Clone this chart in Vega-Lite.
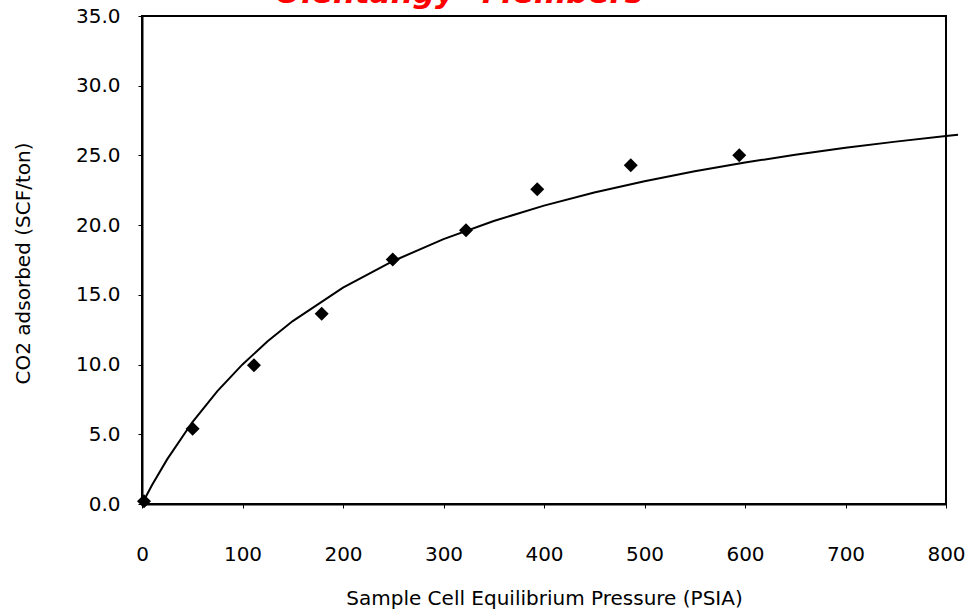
{
  "$schema": "https://vega.github.io/schema/vega-lite/v6.json",
  "autosize": {"type": "none"},
  "width": 804,
  "height": 488,
  "padding": {"left": 142, "top": 16, "right": 24, "bottom": 109},
  "background": "white",
  "title": {
    "text": "\"Olentangy\" Members",
    "color": "#FF0000",
    "font": "DejaVu Sans",
    "fontSize": 31,
    "fontWeight": "bold",
    "fontStyle": "italic",
    "anchor": "middle",
    "dx": -93,
    "dy": 28,
    "offset": 0,
    "baseline": "alphabetic"
  },
  "config": {
    "view": {"stroke": "#000000", "strokeWidth": 2},
    "axis": {
      "labelFont": "DejaVu Sans",
      "labelFontSize": 20,
      "labelColor": "#000000",
      "titleFont": "DejaVu Sans",
      "titleFontSize": 20,
      "titleFontWeight": "normal",
      "titleColor": "#000000",
      "grid": false,
      "domainColor": "#000000",
      "domainWidth": 2,
      "tickColor": "#000000",
      "tickSize": 4,
      "tickWidth": 1,
      "labelFlush": false
    }
  },
  "datasets": {
    "curve": [
      {"p": 0, "v": 0},
      {"p": 10, "v": 1.36},
      {"p": 25, "v": 3.2},
      {"p": 50, "v": 5.86},
      {"p": 75, "v": 8.1},
      {"p": 100, "v": 10.01},
      {"p": 125, "v": 11.67},
      {"p": 150, "v": 13.12},
      {"p": 200, "v": 15.52},
      {"p": 250, "v": 17.43},
      {"p": 300, "v": 19.0},
      {"p": 350, "v": 20.3},
      {"p": 400, "v": 21.4},
      {"p": 450, "v": 22.34},
      {"p": 500, "v": 23.15},
      {"p": 550, "v": 23.86},
      {"p": 600, "v": 24.49},
      {"p": 650, "v": 25.05},
      {"p": 700, "v": 25.55},
      {"p": 750, "v": 25.99},
      {"p": 800, "v": 26.4},
      {"p": 812, "v": 26.49}
    ],
    "measured": [
      {"p": 2, "v": 0.2},
      {"p": 50.4, "v": 5.4},
      {"p": 111.4, "v": 9.95},
      {"p": 178.8, "v": 13.64},
      {"p": 249.5, "v": 17.54},
      {"p": 322.4, "v": 19.63},
      {"p": 393.3, "v": 22.57},
      {"p": 486.3, "v": 24.3},
      {"p": 594.3, "v": 25.02}
    ]
  },
  "layer": [
    {
      "data": {"name": "curve"},
      "mark": {"type": "line", "color": "#000000", "strokeWidth": 2, "clip": false},
      "encoding": {
        "x": {
          "field": "p", "type": "quantitative",
          "scale": {"domain": [0, 800], "nice": false},
          "axis": {
            "values": [0, 100, 200, 300, 400, 500, 600, 700, 800],
            "format": "d",
            "labelPadding": 36,
            "labelFlush": false,
            "title": "Sample Cell Equilibrium Pressure (PSIA)",
            "titleX": 402,
            "titleY": 94,
            "titleBaseline": "middle"
          }
        },
        "y": {
          "field": "v", "type": "quantitative",
          "scale": {"domain": [0, 35], "nice": false},
          "axis": {
            "values": [0, 5, 10, 15, 20, 25, 30, 35],
            "format": ".1f",
            "labelPadding": 18,
            "labelFlush": false,
            "title": "CO2 adsorbed (SCF/ton)",
            "titleX": -119,
            "titleY": 247,
            "titleAngle": -90,
            "titleAlign": "center",
            "titleBaseline": "middle"
          }
        }
      }
    },
    {
      "data": {"name": "measured"},
      "mark": {"type": "point", "shape": "diamond", "filled": true, "color": "#000000", "opacity": 1, "size": 196},
      "encoding": {
        "x": {"field": "p", "type": "quantitative"},
        "y": {"field": "v", "type": "quantitative"}
      }
    }
  ]
}
